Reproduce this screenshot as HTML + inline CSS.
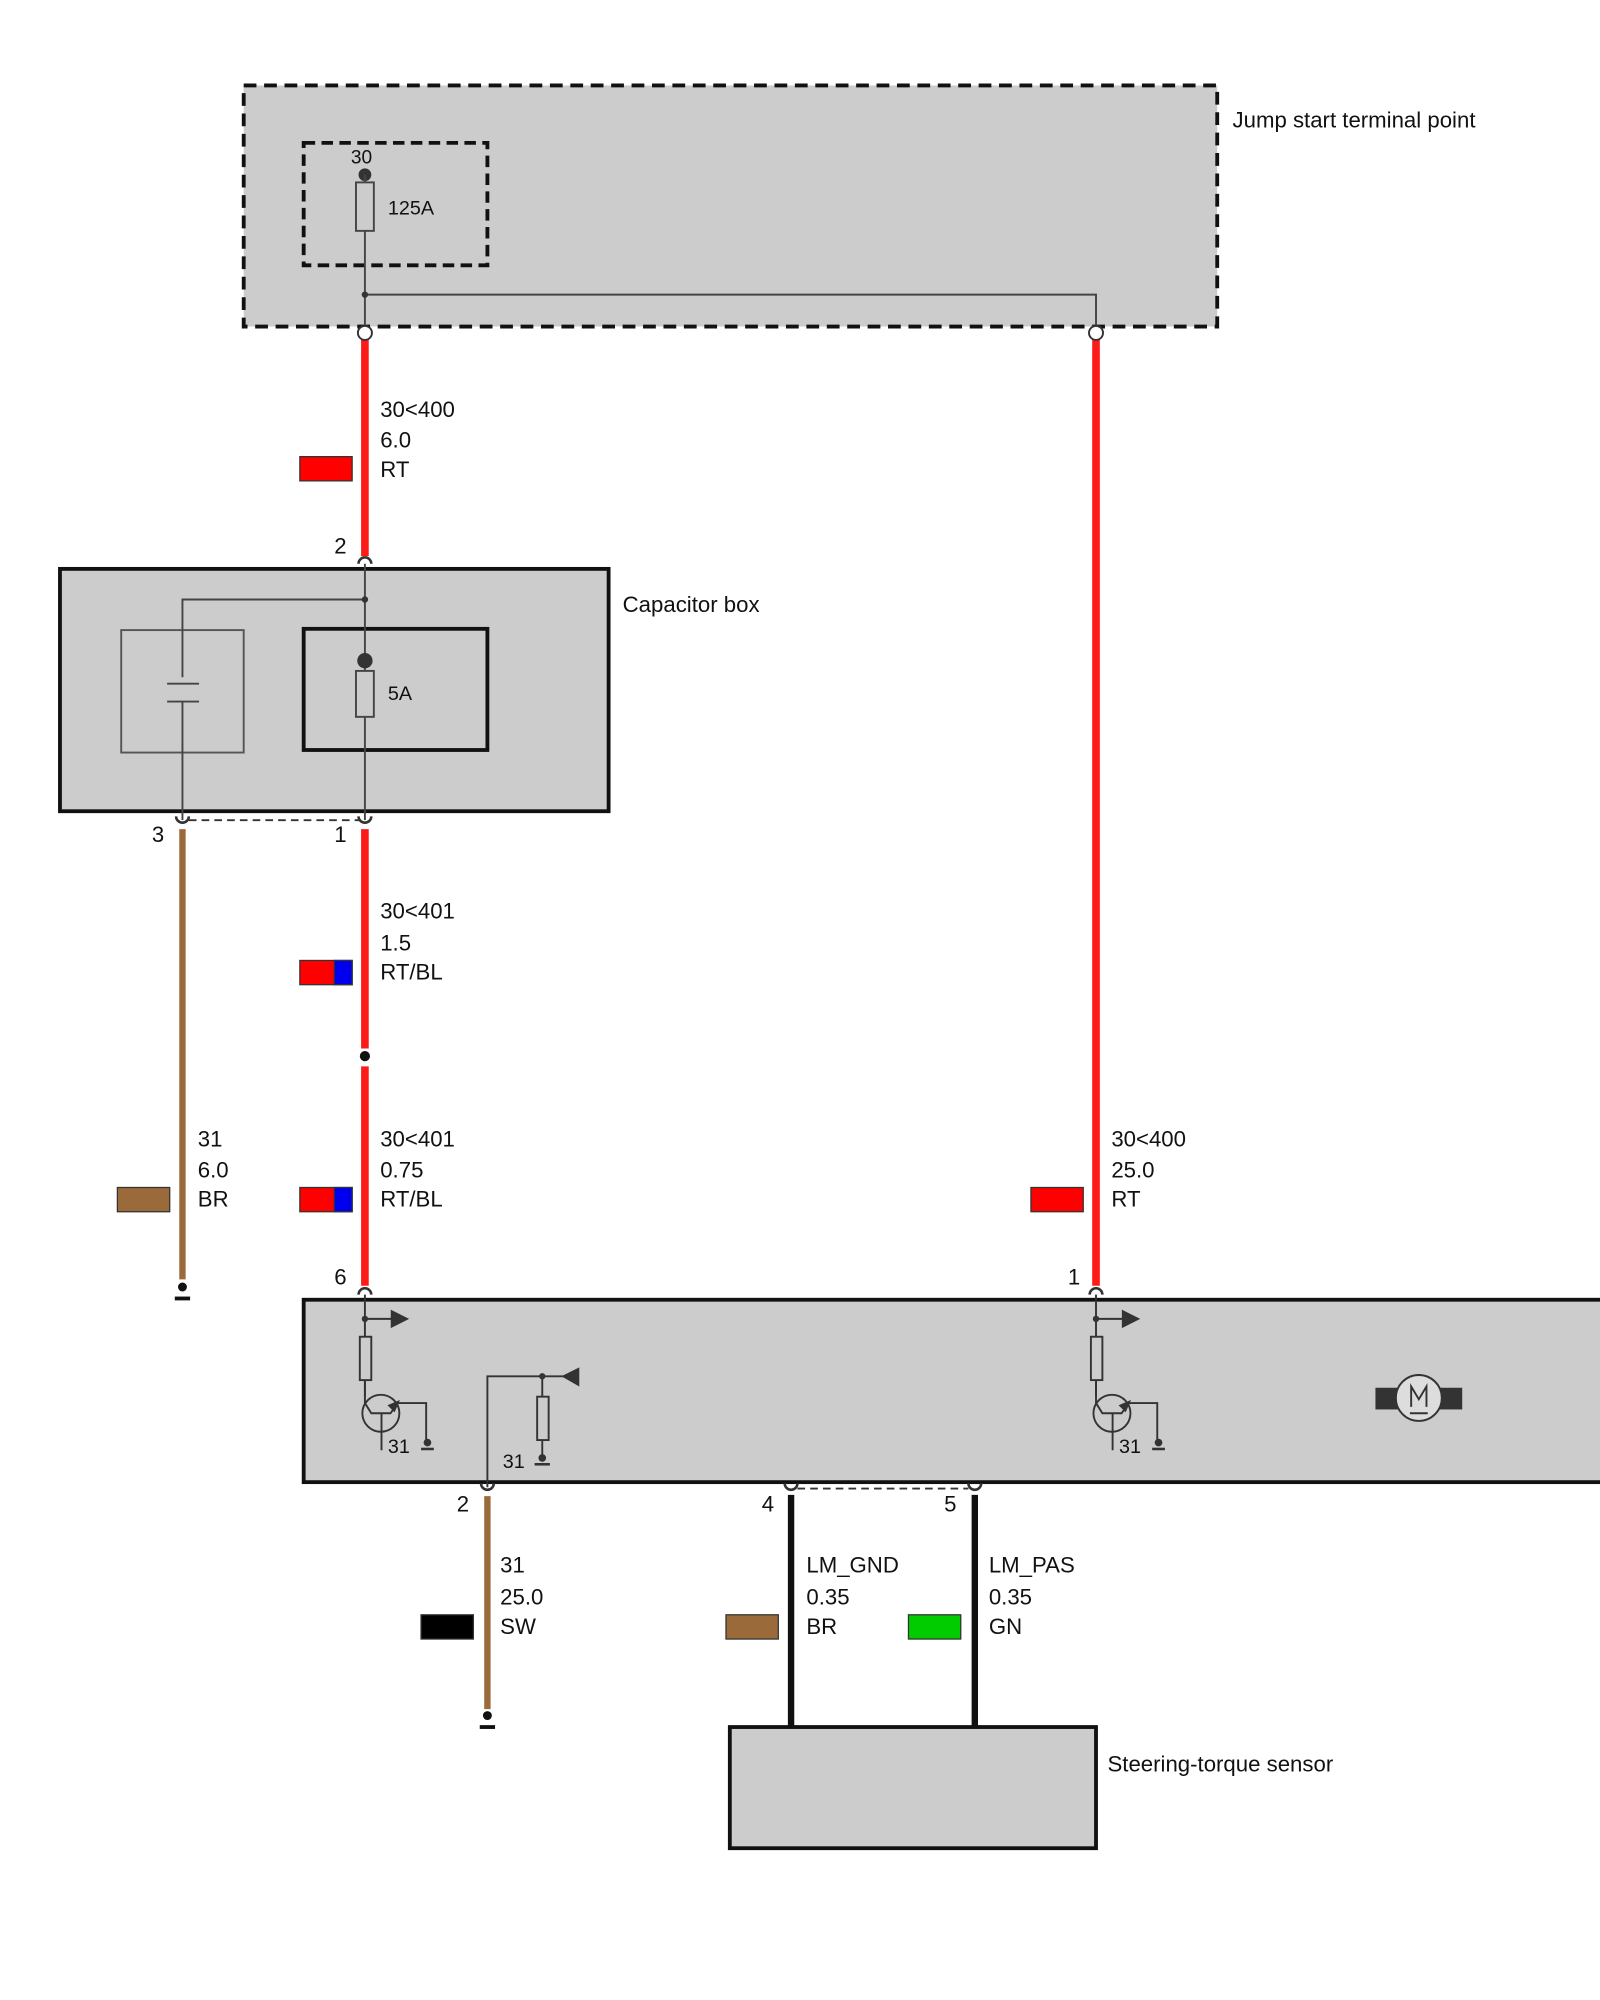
<!DOCTYPE html>
<html><head><meta charset="utf-8"><style>
html,body{margin:0;padding:0;background:#fff;}
svg{display:block;}
text{font-family:"Liberation Sans",sans-serif;fill:#111;}
.t{font-size:17.4px;}
</style></head><body>
<svg width="1600" height="2000" viewBox="0 0 1254 1568" preserveAspectRatio="none" xmlns="http://www.w3.org/2000/svg">
<defs>
<g id="capUp"><path d="M-5,4 A5,5 0 0 1 5,4" fill="none" stroke="#333" stroke-width="2"/></g>
<g id="capDn"><path d="M-5,-4 A5,5 0 0 0 5,-4" fill="none" stroke="#333" stroke-width="2"/></g>
</defs>
<rect width="1254" height="1568" fill="#fff"/>

<rect x="191" y="67" width="763" height="189" fill="#cccccc" stroke="#111" stroke-width="3" stroke-dasharray="10,6"/>
<rect x="238" y="112" width="144" height="96" fill="none" stroke="#111" stroke-width="3" stroke-dasharray="9,5"/>
<text x="966" y="100" class="t">Jump start terminal point</text>
<text x="275" y="128" font-size="15">30</text>
<circle cx="286" cy="137" r="5" fill="#333"/>
<rect x="279" y="143" width="14" height="38" fill="none" stroke="#444" stroke-width="1.5"/>
<text x="304" y="168" font-size="15.5">125A</text>
<path d="M286,137 V143 M286,181 V256 M286,231 H859 V256" fill="none" stroke="#444" stroke-width="1.5"/>
<circle cx="286" cy="231" r="2.5" fill="#333"/>

<line x1="286" y1="266" x2="286" y2="436" stroke="#ff1a1a" stroke-width="6"/>
<line x1="859" y1="266" x2="859" y2="1008" stroke="#ff1a1a" stroke-width="6"/>
<circle cx="286" cy="261" r="5.5" fill="#fff" stroke="#333" stroke-width="1.5"/>
<circle cx="859" cy="261" r="5.5" fill="#fff" stroke="#333" stroke-width="1.5"/>
<text x="298" y="327" class="t">30&lt;400</text>
<text x="298" y="351" class="t">6.0</text>
<text x="298" y="374" class="t">RT</text>
<rect x="235" y="358" width="41" height="19" fill="#ff0000" stroke="#333" stroke-width="1"/>

<rect x="47" y="446" width="430" height="190" fill="#cccccc" stroke="#111" stroke-width="3"/>
<text x="488" y="480" class="t">Capacitor box</text>
<text x="262" y="434" class="t">2</text>
<use href="#capUp" x="286" y="438"/>
<rect x="95" y="494" width="96" height="96" fill="none" stroke="#555" stroke-width="1.5"/>
<rect x="238" y="493" width="144" height="95" fill="none" stroke="#111" stroke-width="3"/>
<path d="M286,442 V643 M286,470 H143 V531 M143,550 V643 M131,536 H156 M131,550 H156" fill="none" stroke="#444" stroke-width="1.5"/>
<circle cx="286" cy="470" r="2.5" fill="#333"/>
<circle cx="286" cy="518" r="6" fill="#333"/>
<rect x="279" y="526" width="14" height="36" fill="#ccc" stroke="#444" stroke-width="1.5"/>
<text x="304" y="549" font-size="15.5">5A</text>
<path d="M148,643 H282" stroke="#333" stroke-width="1.5" stroke-dasharray="6,4"/>
<use href="#capDn" x="143" y="644"/>
<use href="#capDn" x="286" y="644"/>
<text x="119" y="660" class="t">3</text>
<text x="262" y="660" class="t">1</text>

<line x1="143" y1="650" x2="143" y2="1003" stroke="#9a6a3a" stroke-width="5"/>
<circle cx="143" cy="1009" r="3.5" fill="#111"/><line x1="137" y1="1018" x2="149" y2="1018" stroke="#111" stroke-width="3"/>
<text x="155" y="899" class="t">31</text>
<text x="155" y="923" class="t">6.0</text>
<text x="155" y="946" class="t">BR</text>
<rect x="92" y="931" width="41" height="19" fill="#9a6a3a" stroke="#333" stroke-width="1"/>

<line x1="286" y1="650" x2="286" y2="822" stroke="#ff1a1a" stroke-width="6"/>
<circle cx="286" cy="828" r="4" fill="#111"/>
<line x1="286" y1="836" x2="286" y2="1008" stroke="#ff1a1a" stroke-width="6"/>
<text x="298" y="720" class="t">30&lt;401</text>
<text x="298" y="745" class="t">1.5</text>
<text x="298" y="768" class="t">RT/BL</text>
<rect x="235" y="753" width="41" height="19" fill="#ff0000" stroke="#333" stroke-width="1"/>
<rect x="262" y="753" width="14" height="19" fill="#0000ee" stroke="#333" stroke-width="1"/>
<text x="298" y="899" class="t">30&lt;401</text>
<text x="298" y="923" class="t">0.75</text>
<text x="298" y="946" class="t">RT/BL</text>
<rect x="235" y="931" width="41" height="19" fill="#ff0000" stroke="#333" stroke-width="1"/>
<rect x="262" y="931" width="14" height="19" fill="#0000ee" stroke="#333" stroke-width="1"/>
<text x="871" y="899" class="t">30&lt;400</text>
<text x="871" y="923" class="t">25.0</text>
<text x="871" y="946" class="t">RT</text>
<rect x="808" y="931" width="41" height="19" fill="#ff0000" stroke="#333" stroke-width="1"/>

<rect x="238" y="1019" width="1030" height="143" fill="#cccccc" stroke="#111" stroke-width="3"/>
<text x="262" y="1007" class="t">6</text>
<text x="837" y="1007" class="t">1</text>
<use href="#capUp" x="286" y="1011"/>
<use href="#capUp" x="859" y="1011"/>
<g id="drv" fill="none" stroke="#333" stroke-width="1.5">
<path d="M286,1015 V1048 M286,1082 V1095 M286,1034 H308"/>
<path d="M307,1028 L319,1034 L307,1040 Z" fill="#333"/>
<rect x="282" y="1048" width="9" height="34"/>
<ellipse cx="298.5" cy="1108" rx="14.5" ry="14.5"/>
<path d="M286,1082 V1100 L291,1108 H306 L312,1100 H334 V1130 M299,1108 V1137"/>
<path d="M312,1099 L305,1102 L309,1106 Z" fill="#333"/>
</g>
<circle cx="286" cy="1034" r="2.5" fill="#333"/>
<circle cx="335" cy="1131" r="3" fill="#333"/><line x1="330" y1="1136" x2="340" y2="1136" stroke="#333" stroke-width="2"/>
<text x="304" y="1139" font-size="15.5">31</text>
<use href="#drv" x="573" y="0"/>
<circle cx="859" cy="1034" r="2.5" fill="#333"/>
<circle cx="908" cy="1131" r="3" fill="#333"/><line x1="903" y1="1136" x2="913" y2="1136" stroke="#333" stroke-width="2"/>
<text x="877" y="1139" font-size="15.5">31</text>

<path d="M382,1166 V1079 H442 M425,1079 V1095 M425,1129 V1142" fill="none" stroke="#333" stroke-width="1.5"/>
<path d="M440,1079 L454,1072 L454,1087 Z" fill="#333"/>
<circle cx="425" cy="1079" r="2.5" fill="#333"/>
<rect x="421" y="1095" width="9" height="34" fill="none" stroke="#333" stroke-width="1.5"/>
<circle cx="425" cy="1143" r="3" fill="#333"/><line x1="419" y1="1148" x2="431" y2="1148" stroke="#333" stroke-width="2"/>
<text x="394" y="1151" font-size="15.5">31</text>

<rect x="1078" y="1088" width="18" height="17" fill="#333"/>
<rect x="1128" y="1088" width="18" height="17" fill="#333"/>
<circle cx="1112" cy="1096" r="18" fill="#ddd" stroke="#333" stroke-width="1.5"/>
<path d="M1106,1103 V1087 L1112,1097 L1118,1087 V1103 M1105,1108 H1119" fill="none" stroke="#333" stroke-width="1.5"/>

<use href="#capDn" x="382" y="1167"/>
<use href="#capDn" x="620" y="1167"/>
<use href="#capDn" x="764" y="1167"/>
<path d="M625,1167 H759" stroke="#333" stroke-width="1.5" stroke-dasharray="6,4"/>
<text x="358" y="1185" class="t">2</text>
<text x="597" y="1185" class="t">4</text>
<text x="740" y="1185" class="t">5</text>
<line x1="382" y1="1173" x2="382" y2="1340" stroke="#9a6a3a" stroke-width="5"/>
<circle cx="382" cy="1345" r="3.5" fill="#111"/><line x1="376" y1="1354" x2="388" y2="1354" stroke="#111" stroke-width="3"/>
<text x="392" y="1233" class="t">31</text>
<text x="392" y="1258" class="t">25.0</text>
<text x="392" y="1281" class="t">SW</text>
<rect x="330" y="1266" width="41" height="19" fill="#000" stroke="#333" stroke-width="1"/>
<line x1="620" y1="1172" x2="620" y2="1354" stroke="#111" stroke-width="5"/>
<line x1="764" y1="1172" x2="764" y2="1354" stroke="#111" stroke-width="5"/>
<text x="632" y="1233" class="t">LM_GND</text>
<text x="632" y="1258" class="t">0.35</text>
<text x="632" y="1281" class="t">BR</text>
<rect x="569" y="1266" width="41" height="19" fill="#9a6a3a" stroke="#333" stroke-width="1"/>
<text x="775" y="1233" class="t">LM_PAS</text>
<text x="775" y="1258" class="t">0.35</text>
<text x="775" y="1281" class="t">GN</text>
<rect x="712" y="1266" width="41" height="19" fill="#00cc00" stroke="#333" stroke-width="1"/>

<rect x="572" y="1354" width="287" height="95" fill="#cccccc" stroke="#111" stroke-width="3"/>
<text x="868" y="1389" class="t">Steering-torque sensor</text>
</svg>
</body></html>
